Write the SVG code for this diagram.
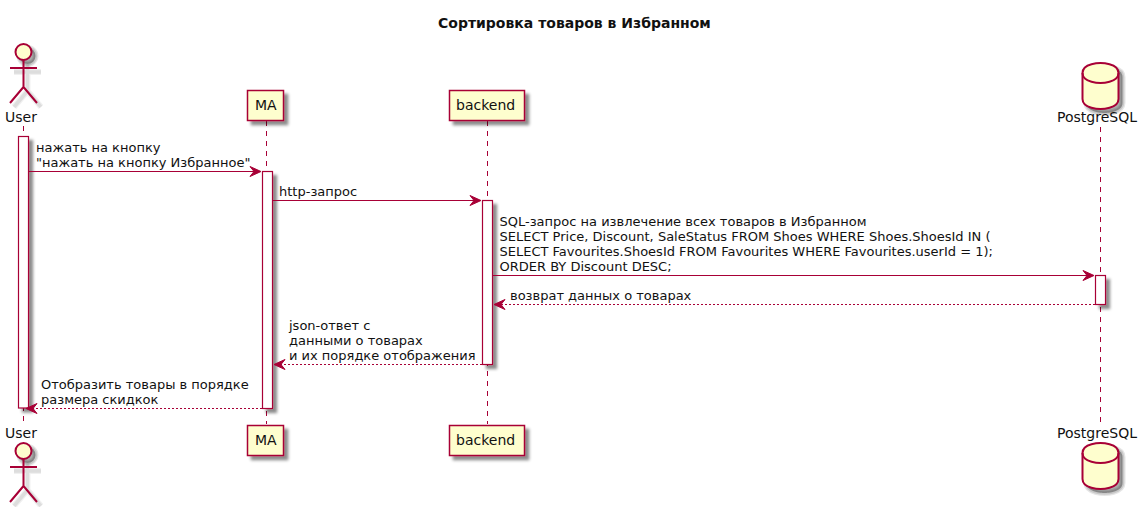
<svg xmlns="http://www.w3.org/2000/svg" width="1144" height="507" viewBox="0 0 1144 507">
<style>
text{font-family:"DejaVu Sans",sans-serif;fill:#111}
.m{font-size:13px}
.p{font-size:14px}
.t{font-size:14px;font-weight:bold}
.s{fill:#FEFECE;stroke:#A80036;stroke-width:1.5}
.n{fill:none;stroke:#A80036;stroke-width:2}
.f{fill:#FEFECE;stroke:#A80036;stroke-width:2}
.a{fill:#fff;stroke:#A80036;stroke-width:1.2}
.life{stroke:#A80036;stroke-width:1;stroke-dasharray:5,5;fill:none}
.c{stroke:#A80036;stroke-width:1.1;fill:none}
.d{stroke-dasharray:2,2}
.h{fill:#A80036;stroke:#A80036;stroke-width:1}
.o1{fill:none;stroke:#000;stroke-opacity:.1;stroke-width:6}
.o2{fill:#000;fill-opacity:.1;stroke:#000;stroke-opacity:.12;stroke-width:3.5}
.o3{fill:#000;fill-opacity:.25;stroke:none}
.l1{fill:none;stroke:#000;stroke-opacity:.06;stroke-width:6}
.l2{fill:none;stroke:#000;stroke-opacity:.08;stroke-width:3.5}
</style>
<defs>
<filter id="sh" x="-60%" y="-60%" width="240%" height="240%">
<feGaussianBlur in="SourceAlpha" stdDeviation="1.6" result="b"/>
<feOffset in="b" dx="4" dy="4" result="o"/>
<feColorMatrix in="o" type="matrix" values="0 0 0 0 0 0 0 0 0 0 0 0 0 0 0 0 0 0 0.45 0" result="c"/>
<feMerge><feMergeNode in="c"/><feMergeNode in="SourceGraphic"/></feMerge>
</filter>
<circle id="cs" cx="0" cy="0" r="8"/>
<path id="as" d="M0 8V35M-13.500 16H13.500M0 35L-13.500 51M0 35L13.500 51"/>
<path id="ds" d="M-18 10C-18 0 0 0 0 0C0 0 18 0 18 10V36C18 46 0 46 0 46C0 46 -18 46 -18 36Z"/>
</defs>
<text class="t" x="438" y="28">Сортировка товаров в Избранном</text>
<g id="lifelines">
<line class="life" x1="23.5" y1="126" x2="23.5" y2="423"/>
<line class="life" x1="266.5" y1="121" x2="266.5" y2="424"/>
<line class="life" x1="487.5" y1="121" x2="487.5" y2="424"/>
<line class="life" x1="1100.5" y1="127" x2="1100.5" y2="423"/>
</g>
<g id="activations">
<rect class="a" filter="url(#sh)" x="18.5" y="136.5" width="10" height="271.5"/>
<rect class="a" filter="url(#sh)" x="262.5" y="171.5" width="10" height="237"/>
<rect class="a" filter="url(#sh)" x="482.5" y="200.5" width="10" height="164"/>
<rect class="a" filter="url(#sh)" x="1095.500" y="275.5" width="10" height="29"/>
</g>
<g id="node-user">
<use href="#as" class="l1" x="27.5" y="56"/><use href="#as" class="l2" x="27.5" y="56"/>
<use href="#cs" class="o1" x="27.5" y="56"/><use href="#cs" class="o2" x="27.5" y="56"/><use href="#cs" class="o3" x="27.5" y="56"/>
<path class="n" d="M23.500 60V87M10 68H37M23.500 87L10 103M23.500 87L37 103"/>
<circle class="f" cx="23.5" cy="52" r="8"/>
<text class="p" x="5" y="122">User</text>
<text class="p" x="5" y="438">User</text>
<use href="#as" class="l1" x="27.5" y="455"/><use href="#as" class="l2" x="27.5" y="455"/>
<use href="#cs" class="o1" x="27.5" y="455"/><use href="#cs" class="o2" x="27.5" y="455"/><use href="#cs" class="o3" x="27.5" y="455"/>
<path class="n" d="M23.500 459V486M10 467H37M23.500 486L10 502M23.500 486L37 502"/>
<circle class="f" cx="23.5" cy="451" r="8"/>
</g>
<g id="node-ma">
<rect class="s" filter="url(#sh)" x="247.5" y="90.5" width="36" height="30"/>
<text class="p" x="255" y="110">MA</text>
<rect class="s" filter="url(#sh)" x="247.5" y="425.5" width="36" height="30"/>
<text class="p" x="255" y="445">MA</text>
</g>
<g id="node-backend">
<rect class="s" filter="url(#sh)" x="449.5" y="90.5" width="75" height="30"/>
<text class="p" x="456" y="110">backend</text>
<rect class="s" filter="url(#sh)" x="449.5" y="425.5" width="75" height="30"/>
<text class="p" x="456" y="445">backend</text>
</g>
<g id="node-postgresql">
<use href="#ds" class="o1" x="1104.5" y="67"/><use href="#ds" class="o2" x="1104.5" y="67"/><use href="#ds" class="o3" x="1104.5" y="67"/>
<path class="f" d="M1082.500 73C1082.500 63 1100.500 63 1100.500 63C1100.500 63 1118.500 63 1118.500 73V99C1118.500 109 1100.500 109 1100.500 109C1100.500 109 1082.500 109 1082.500 99Z"/>
<path class="n" d="M1082.500 73C1082.500 83 1100.500 83 1100.500 83C1100.500 83 1118.500 83 1118.500 73"/>
<text class="p" x="1057" y="122">PostgreSQL</text>
<text class="p" x="1057" y="438">PostgreSQL</text>
<use href="#ds" class="o1" x="1104.5" y="447"/><use href="#ds" class="o2" x="1104.5" y="447"/><use href="#ds" class="o3" x="1104.5" y="447"/>
<path class="f" d="M1082.500 453C1082.500 443 1100.500 443 1100.500 443C1100.500 443 1118.500 443 1118.500 453V479C1118.500 489 1100.500 489 1100.500 489C1100.500 489 1082.500 489 1082.500 479Z"/>
<path class="n" d="M1082.500 453C1082.500 463 1100.500 463 1100.500 463C1100.500 463 1118.500 463 1118.500 453"/>
</g>
<g id="connectors">
<line class="c" x1="28.5" y1="171.5" x2="256" y2="171.500"/>
<path class="h" d="M250 166.500L261 171.500L250 176.500L254 171.500Z"/>
<line class="c" x1="272.5" y1="200.5" x2="476" y2="200.5"/>
<path class="h" d="M470 195.500L481 200.500L470 205.500L474 200.500Z"/>
<line class="c" x1="492.500" y1="275.5" x2="1089" y2="275.5"/>
<path class="h" d="M1083 270.500L1094 275.500L1083 280.500L1087 275.500Z"/>
<line class="c d" x1="1095" y1="304.5" x2="499" y2="304.5"/>
<path class="h" d="M505 299.500L494 304.500L505 309.500L501 304.500Z"/>
<line class="c d" x1="482" y1="364.500" x2="279" y2="364.500"/>
<path class="h" d="M285 359.500L274 364.500L285 369.500L281 364.500Z"/>
<line class="c d" x1="262" y1="408.500" x2="33" y2="408.500"/>
<path class="h" d="M37 403.500L26 408.500L37 413.500L33 408.500Z"/>
</g>
<g id="labels">
<text class="m" x="36" y="152">нажать на кнопку</text>
<text class="m" x="36" y="167">"нажать на кнопку Избранное"</text>
<text class="m" x="279" y="196">http-запрос</text>
<text class="m" x="499.500" y="226">SQL-запрос на извлечение всех товаров в Избранном</text>
<text class="m" x="499.500" y="241">SELECT Price, Discount, SaleStatus FROM Shoes WHERE Shoes.ShoesId IN (</text>
<text class="m" x="499.500" y="256">SELECT Favourites.ShoesId FROM Favourites WHERE Favourites.userId = 1);</text>
<text class="m" x="499.500" y="271">ORDER BY Discount DESC;</text>
<text class="m" x="510" y="300">возврат данных о товарах</text>
<text class="m" x="289" y="330">json-ответ с</text>
<text class="m" x="289" y="345">данными о товарах</text>
<text class="m" x="289" y="360">и их порядке отображения</text>
<text class="m" x="41" y="389">Отобразить товары в порядке</text>
<text class="m" x="41" y="404">размера скидкок</text>
</g>
</svg>
